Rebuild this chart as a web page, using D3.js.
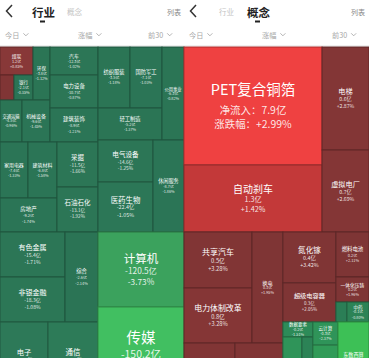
<!DOCTYPE html>
<html><head><meta charset="utf-8">
<script src="https://cdn.jsdelivr.net/npm/d3@7"></script>
<style>
html,body{margin:0;padding:0;background:#fff;overflow:hidden;}
svg{display:block;font-family:"Noto Sans CJK SC","Noto Sans",sans-serif;}
</style></head><body>
<svg id="c" width="369" height="358"></svg>
<script>
// ---------------- data ----------------
// Left panel: 行业 (industries)
const leftNames = ["煤炭","钢铁","银行","环保","交通运输","机械设备","汽车","电力设备","建筑装饰",
  "家用电器","建筑材料","房地产","采掘","石油石化","有色金属","非银金融","综合","电子","通信",
  "纺织服装","国防军工","轻工制造","公用事业","电气设备","医药生物","休闲服务","计算机","传媒"];
const leftTurnover = [46.2,17.5,23.8,45.1,46.2,58.8,67.2,79.2,81.6,
  78.4,81.2,96.9,92.3,92.3,146.3,146.3,148.5,180.0,187.5,
  97.6,97.6,102.4,102.3,115.5,137.5,142.6,322.5,387.0];
const leftFlow = [1.2,0.3,-2.1,-3.8,-4.5,-9.6,-12.3,-10.7,-8.9,
  -7.4,-6.8,-9.2,-11.5,-13.1,-15.4,-18.3,-2.6,-35.2,-41.8,
  -3.5,-7.1,-5.2,-6.3,-14.6,-22.4,-8.7,-120.5,-150.2];
const leftChange = [0.85,0.21,-0.35,-1.12,-0.96,-1.45,-1.02,-0.87,-1.21,
  -1.33,-1.58,-1.74,-1.66,-1.92,-1.71,-1.08,-2.14,-2.25,-3.06,
  -1.18,-1.03,-1.37,-0.82,-1.25,-1.05,-1.86,-3.73,-5.61];
// nesting of leaf indices (groups alternate column / row split)
const leftTree = [
  [ [ [ [ [0,[1,2]], 3 ], [4,5] ], [6,7,8] ],
    [ [[9,10],11], [12,13] ],
    [ [14,15], 16 ],
    [17,18] ],
  [ [ [[19,20],21], 22 ], [ [23,24], 25 ], 26, 27 ]
];

// Right panel: 概念 (concepts)
const rightNames = ["PET复合铜箔","自动刹车","电梯","虚拟电厂","共享汽车","电力体制改革","换电",
  "氮化镓","超级电容器","燃料电池","一体化压铸","数字货币","中药","汽车热管理","新能源车",
  "数据要素","信创","云游戏","云计算","网络游戏","东数西算"];
const rightTurnover = [162.8,92.5,48.4,38.5,38.1,37.4,34.4,
  27.0,20.7,14.9,8.3,2.2,4.4,27.5,25.9,
  4.5,11.4,6.6,5.8,13.0,23.3];
const rightFlow = [7.9,1.3,0.6,0.7,0.5,0.8,0.3,
  0.4,0.3,0.2,0.2,-0.05,-0.1,0.5,0.4,
  -0.2,-0.3,-0.1,-0.3,-0.4,-0.9];
const rightChange = [2.99,1.42,2.87,2.69,3.28,3.28,1.95,
  3.42,2.05,2.11,1.96,-0.52,-0.80,2.13,1.87,
  -1.51,-2.12,-1.80,-2.37,-3.05,-4.26];
const rightTree = [
  [ [0,1], [2,3] ],
  [ [ [[4,5],6], [13,14] ],
    [ [ [7,8], [9,10,[11,12]] ],
      [ [15,[16,17]], [18,19], 20 ] ] ]
];

// header texts
const tabNames = ["行业","概念"];
const listLabel = "列表";
const filterNames = ["今日","涨幅","前30"];
const flowPrefix = "净流入：";
const changePrefix = "涨跌幅：";

// ---------------- drawing ----------------
const svg = d3.select("#c");
const W = 369, topY = 47, bottomY = 397;

// header
function header(x0, active) {
  const g = svg.append("g").attr("transform", `translate(${x0},0)`);
  g.append("path").attr("d","M12,5 L6.5,11 L12,17").attr("fill","none")
    .attr("stroke","#333").attr("stroke-width",1.5);
  const tabX = active === 0 ? [32, 67] : [35, 63];
  tabNames.forEach((t,i) => {
    const on = i === active;
    g.append("text").attr("x", tabX[i]).attr("y", 11.5)
      .attr("dominant-baseline","central")
      .attr("font-size", on ? 11.5 : 7.5).attr("font-weight", on ? 700 : 400)
      .attr("fill", on ? "#222" : "#c4c4c4").text(t);
    if (on) g.append("rect").attr("x", tabX[i] + 8).attr("y", 20.5).attr("width", 5).attr("height", 2).attr("fill","#222");
  });
  g.append("text").attr("x", 167).attr("y", 11.5).attr("dominant-baseline","central")
    .attr("font-size", 7).attr("fill","#888").text(listLabel);
  const fx = [5, 78, 148];
  filterNames.forEach((t,i) => {
    const tx = g.append("text").attr("x", fx[i]).attr("y", 34.5).attr("dominant-baseline","central")
      .attr("font-size", 7.2).attr("fill","#a8a8a8").text(t);
    const w = tx.node().getComputedTextLength();
    const cx = fx[i] + w + 4;
    g.append("path").attr("d", `M${cx},33.3 L${cx+2.5},35.8 L${cx+5},33.3`).attr("fill","none")
      .attr("stroke","#a0a0a0").attr("stroke-width",0.8);
  });
}
header(0, 0);
header(184, 1);
svg.append("line").attr("x1",0).attr("x2",W).attr("y1",45.5).attr("y2",45.5).attr("stroke","#efefef");

const leftColor = d3.scaleLinear()
  .domain([-150, -120, -40, -0.001, 0.001, 2])
  .range(["#41bf61", "#3ba25d", "#2d7a58", "#2b7455", "#7e3434", "#8e3b3b"]);
const rightColor = d3.scaleLinear()
  .domain([-1, -0.3, -0.001, 0.001, 1, 1.3, 8])
  .range(["#3fc755", "#2f9459", "#2a7a55", "#7c3434", "#873737", "#c33939", "#f04141"]).clamp(true);

const fontScale = d3.scaleLinear()
  .domain([20, 30, 45, 56, 67, 75, 86])
  .range([4.5, 5, 7, 8, 10, 11.5, 14.5]).clamp(true);

function textUnits(s) {
  let n = 0;
  for (const ch of s) n += /[\x00-\x7f]/.test(ch) ? 0.62 : 1;
  return n;
}
const alt = start => (node, x0, y0, x1, y1) =>
  (((node.depth + start) & 1) ? d3.treemapSlice : d3.treemapDice)(node, x0, y0, x1, y1);

function panel(x0, x1, tree, names, turnover, flow, change, color, start) {
  const root = d3.hierarchy(tree, d => Array.isArray(d) ? d : null)
    .sum(d => Array.isArray(d) ? 0 : turnover[d]);
  d3.treemap().tile(alt(start)).size([x1 - x0, bottomY - topY]).round(false)(root);
  const g = svg.append("g").attr("transform", `translate(${x0},${topY})`);
  const leaves = root.leaves();
  const cell = g.selectAll("g.cell").data(leaves).join("g").attr("class","cell");
  cell.append("rect")
    .attr("x", d => d.x0).attr("y", d => d.y0)
    .attr("width", d => d.x1 - d.x0).attr("height", d => d.y1 - d.y0)
    .attr("fill", d => color(flow[d.data]))
    .attr("stroke", d => d3.color(color(flow[d.data])).darker(0.9))
    .attr("stroke-width", 1);
  cell.each(function(d) {
    const w = d.x1 - d.x0, h = d.y1 - d.y0;
    if (w < 15 || h < 14) return;
    const i = d.data, name = names[i];
    const big = w >= 120 && h >= 100;
    let fs = Math.min(fontScale(Math.min(w, h)), (w * 0.78) / textUnits(name));
    const vfs = Math.max(3.8, fs * 0.72);
    const f = flow[i], c = change[i];
    const ft = (big ? flowPrefix : "") + f.toFixed(1) + "亿";
    const ct = (big ? changePrefix : "") + (c > 0 ? "+" : "") + c.toFixed(2) + "%";
    const gap1 = fs * (big ? 1.4 : (fs > 12 ? 1.22 : 1.1)), gap2 = vfs * 1.35;
    const cx = (d.x0 + d.x1) / 2, cy = (d.y0 + d.y1) / 2;
    const y1 = cy - (gap1 + gap2) / 2;
    const s = d3.select(this);
    s.append("text").attr("x", cx).attr("y", y1).attr("text-anchor","middle")
      .attr("dominant-baseline","central").attr("font-size", fs).attr("fill","#fff").text(name);
    s.append("text").attr("x", cx).attr("y", y1 + gap1).attr("text-anchor","middle")
      .attr("dominant-baseline","central").attr("font-size", vfs).attr("fill","rgba(255,255,255,0.88)").text(ft);
    s.append("text").attr("x", cx).attr("y", y1 + gap1 + gap2).attr("text-anchor","middle")
      .attr("dominant-baseline","central").attr("font-size", vfs).attr("fill","rgba(255,255,255,0.88)").text(ct);
  });
}
panel(0, 184, leftTree, leftNames, leftTurnover, leftFlow, leftChange, leftColor, 0);
panel(184, 369, rightTree, rightNames, rightTurnover, rightFlow, rightChange, rightColor, 1);
</script>
</body></html>
